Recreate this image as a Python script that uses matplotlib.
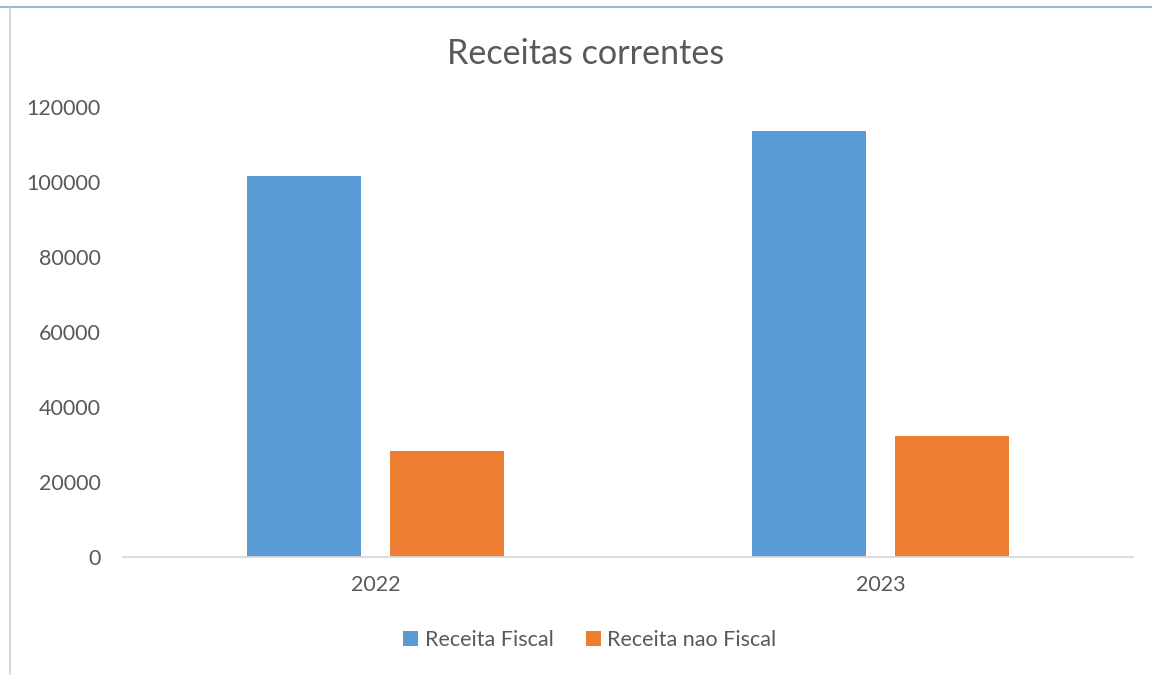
import matplotlib
matplotlib.use("Agg")
import matplotlib.pyplot as plt
from matplotlib.lines import Line2D
import numpy as np

years = ["2022", "2023"]
receita_fiscal = [101600, 113600]
receita_nao_fiscal = [28300, 32300]
series_names = ["Receita Fiscal", "Receita nao Fiscal"]
colors = ["#5B9BD5", "#ED7D31"]
yticks = [0, 20000, 40000, 60000, 80000, 100000, 120000]

plt.rcParams['font.family'] = ['Lato', 'DejaVu Sans']

W, H = 1152, 675
fig = plt.figure(figsize=(W / 100, H / 100), dpi=100)
fig.patch.set_facecolor("white")

# axes placement in pixels
left, right, top, bottom = 123, 1133, 107, 557
ax = fig.add_axes([left / W, 1 - bottom / H, (right - left) / W, (bottom - top) / H])

x = np.arange(len(years))
bw = 0.224
off = 0.1416
ax.bar(x - off, receita_fiscal, width=bw, color=colors[0], label=series_names[0])
ax.bar(x + off, receita_nao_fiscal, width=bw, color=colors[1], label=series_names[1])

ax.set_xlim(-0.5, len(years) - 0.5)
ax.set_ylim(0, 120000)
ax.set_yticks(yticks)
ax.set_yticklabels([str(v) for v in yticks])
ax.set_xticks(x)
ax.set_xticklabels(years)
ax.tick_params(axis='both', length=0, labelsize=15.5, colors="#595959")
ax.tick_params(axis='y', pad=16)
ax.tick_params(axis='x', pad=13)
for s in ["top", "right", "left"]:
    ax.spines[s].set_visible(False)
ax.spines["bottom"].set_color("#D9D9D9")
ax.spines["bottom"].set_linewidth(1.3)

fig.text(586 / W, 1 - 54 / H, "Receitas correntes", ha="center", va="center",
         fontsize=24.6, color="#595959")

leg = fig.legend(loc="center", bbox_to_anchor=(590 / W, 1 - 640 / H), ncol=2,
                 frameon=False, fontsize=15.5, handlelength=0.7, handleheight=0.7,
                 handletextpad=0.3, columnspacing=1.5)
for t in leg.get_texts():
    t.set_color("#595959")

# frame lines of the screenshot
fig.add_artist(Line2D([0, 1], [1 - 7 / H, 1 - 7 / H], color="#9DB7D3", lw=1.5))
fig.add_artist(Line2D([9.5 / W, 9.5 / W], [0, 1 - 8 / H], color="#D0D0D0", lw=1.2))

fig.savefig("out.png", dpi=100, facecolor="white")
